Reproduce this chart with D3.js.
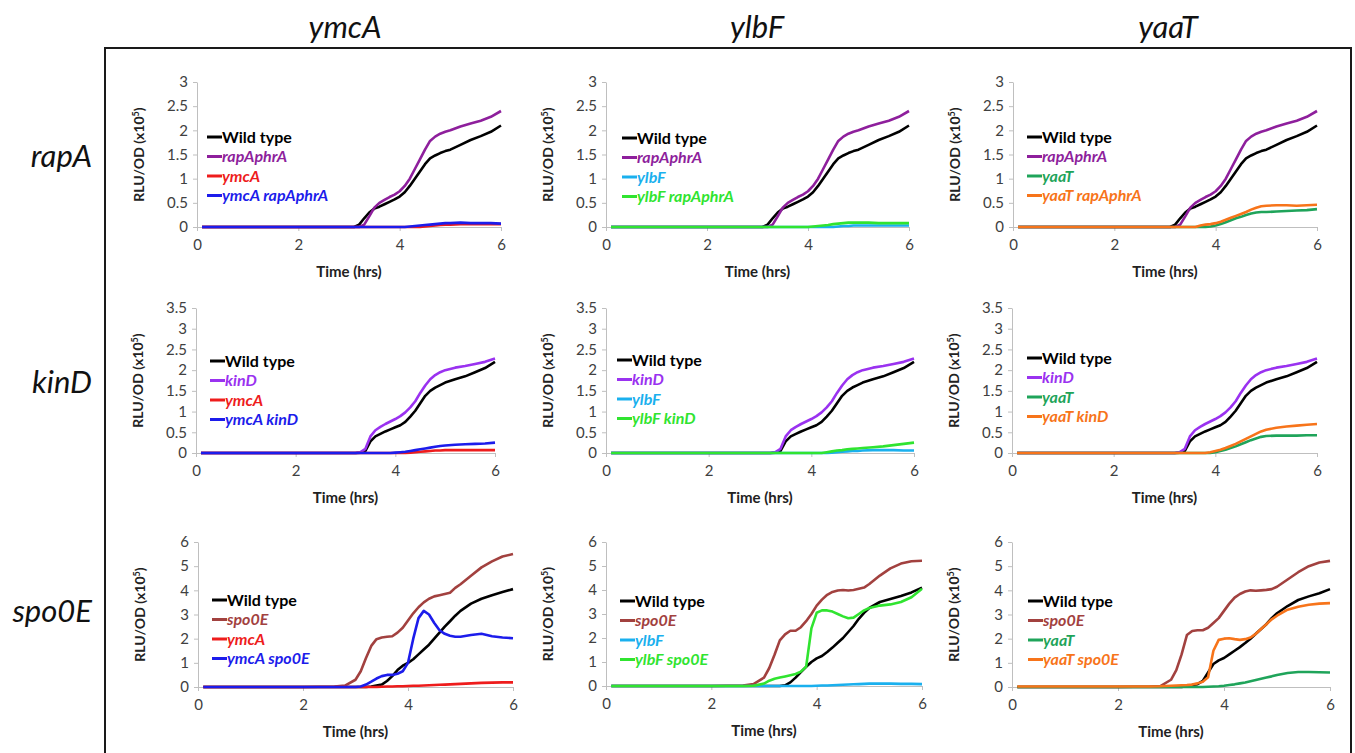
<!DOCTYPE html>
<html>
<head>
<meta charset="utf-8">
<script src="https://cdn.jsdelivr.net/npm/d3@7"></script>
<style>
  body { margin: 0; background: #fff; }
  svg { display: block; font-family: Lato, "Open Sans", sans-serif; }
</style>
</head>
<body>
<script>
// time points (hrs) shared by every series
const time = [0.1, 1, 2, 2.6, 2.8, 3.0, 3.1, 3.2, 3.3, 3.4, 3.5, 3.6, 3.7, 3.8, 3.9, 4.0,
              4.1, 4.2, 4.3, 4.4, 4.5, 4.6, 4.7, 4.8, 4.9, 5.0, 5.2, 5.4, 5.6, 5.8, 6.0];

// row 1 - rapA phrA
const wtRapA      = [0,0,0,0,0,0,0,0.05,0.18,0.3,0.38,0.42,0.47,0.52,0.57,0.63,0.72,0.85,1.0,1.15,1.3,1.42,1.48,1.53,1.57,1.6,1.7,1.8,1.88,1.97,2.1];
const rapAphrA    = [0,0,0,0,0,0,0,0,0.05,0.22,0.4,0.5,0.56,0.62,0.67,0.74,0.85,1.0,1.2,1.4,1.6,1.78,1.87,1.93,1.97,2.0,2.08,2.14,2.2,2.28,2.4];
const ymcA1       = [0,0,0,0,0,0,0,0,0,0,0,0,0,0,0,0,0,0,0,0,0.01,0.02,0.03,0.04,0.05,0.05,0.06,0.06,0.06,0.06,0.06];
const ymcARapA    = [0,0,0,0,0,0,0,0,0,0,0,0,0,0,0,0,0,0.01,0.02,0.03,0.04,0.05,0.06,0.07,0.08,0.08,0.09,0.08,0.08,0.08,0.07];
const ylbF1       = [0,0,0,0,0,0,0,0,0,0,0,0,0,0,0,0,0,0,0,0,0,0.01,0.02,0.02,0.03,0.03,0.03,0.03,0.03,0.03,0.03];
const ylbFRapA    = [0,0,0,0,0,0,0,0,0,0,0,0,0,0,0,0,0.01,0.02,0.03,0.04,0.06,0.07,0.08,0.09,0.09,0.09,0.09,0.08,0.08,0.08,0.08];
const yaaT1       = [0,0,0,0,0,0,0,0,0,0,0,0,0,0,0.01,0.03,0.06,0.1,0.14,0.18,0.21,0.25,0.28,0.3,0.31,0.31,0.32,0.33,0.34,0.35,0.37];
const yaaTRapA    = [0,0,0,0,0,0,0,0,0,0,0,0,0.03,0.05,0.06,0.08,0.11,0.15,0.19,0.23,0.27,0.31,0.36,0.4,0.43,0.44,0.45,0.45,0.44,0.45,0.46];

// row 2 - kinD
const wtKinD      = [0,0,0,0,0,0,0,0,0.01,0.05,0.28,0.4,0.46,0.52,0.57,0.62,0.67,0.75,0.88,1.02,1.2,1.38,1.5,1.58,1.64,1.7,1.78,1.85,1.95,2.05,2.2];
const kinD        = [0,0,0,0,0,0,0,0,0.02,0.1,0.4,0.55,0.63,0.7,0.76,0.82,0.89,0.98,1.1,1.25,1.45,1.63,1.78,1.88,1.95,2.0,2.06,2.1,2.15,2.2,2.28];
const ymcA2       = [0,0,0,0,0,0,0,0,0,0,0,0,0,0,0,0,0,0,0.01,0.02,0.03,0.04,0.05,0.06,0.06,0.07,0.07,0.07,0.07,0.07,0.07];
const ymcAKinD    = [0,0,0,0,0,0,0,0,0,0,0,0,0,0,0,0.01,0.02,0.03,0.05,0.07,0.09,0.11,0.13,0.15,0.17,0.18,0.2,0.21,0.22,0.23,0.25];
const ylbF2       = [0,0,0,0,0,0,0,0,0,0,0,0,0,0,0,0,0,0,0,0.01,0.02,0.03,0.04,0.05,0.05,0.06,0.07,0.07,0.07,0.06,0.06];
const ylbFKinD    = [0,0,0,0,0,0,0,0,0,0,0,0,0,0,0,0,0,0,0.02,0.04,0.06,0.07,0.09,0.1,0.11,0.12,0.14,0.16,0.19,0.22,0.25];
const yaaT2       = [0,0,0,0,0,0,0,0,0,0,0,0,0,0,0,0.02,0.05,0.08,0.12,0.16,0.21,0.26,0.31,0.35,0.39,0.41,0.42,0.42,0.42,0.43,0.43];
const yaaTKinD    = [0,0,0,0,0,0,0,0,0,0,0,0,0,0,0.02,0.05,0.08,0.12,0.17,0.22,0.28,0.34,0.4,0.46,0.52,0.56,0.61,0.64,0.66,0.68,0.7];

// row 3 - spo0E (one experiment per column)
const wtSpoA      = [0,0,0,0,0,0,0,0,0.02,0.06,0.1,0.25,0.45,0.7,0.88,1.0,1.15,1.35,1.55,1.75,2.0,2.25,2.5,2.72,2.95,3.15,3.45,3.65,3.8,3.93,4.05];
const spo0EA      = [0,0,0,0.02,0.06,0.3,0.65,1.2,1.7,1.98,2.05,2.08,2.1,2.25,2.45,2.75,3.05,3.3,3.5,3.65,3.75,3.8,3.85,3.9,4.1,4.25,4.6,4.95,5.2,5.4,5.5];
const ymcA3       = [0,0,0,0,0,0,0,0,0,0,0.01,0.02,0.02,0.03,0.03,0.04,0.05,0.05,0.06,0.07,0.08,0.09,0.1,0.11,0.12,0.13,0.15,0.17,0.18,0.19,0.19];
const ymcASpo     = [0,0,0,0,0,0,0.02,0.1,0.22,0.35,0.45,0.5,0.5,0.55,0.65,1.0,2.0,2.85,3.15,3.0,2.65,2.35,2.2,2.12,2.08,2.08,2.15,2.2,2.1,2.05,2.02];

const wtSpoB      = [0,0,0,0,0,0,0,0,0,0.03,0.15,0.35,0.58,0.8,1.0,1.15,1.25,1.42,1.6,1.8,2.0,2.25,2.5,2.8,3.05,3.25,3.5,3.62,3.75,3.9,4.1];
const spo0EB      = [0,0,0,0.02,0.08,0.35,0.75,1.3,1.9,2.15,2.3,2.3,2.45,2.7,3.0,3.35,3.6,3.8,3.92,3.98,4.0,3.98,4.0,4.05,4.1,4.25,4.6,4.9,5.1,5.2,5.22];
const ylbF3       = [0,0,0,0,0,0,0,0,0,0,0,0,0,0,0,0.01,0.02,0.02,0.03,0.04,0.05,0.06,0.07,0.08,0.09,0.1,0.1,0.1,0.09,0.09,0.08];
const ylbFSpo     = [0,0,0,0,0.01,0.1,0.22,0.3,0.35,0.4,0.45,0.5,0.6,0.8,2.4,3.05,3.15,3.15,3.1,3.0,2.9,2.82,2.85,3.0,3.15,3.25,3.35,3.4,3.5,3.7,4.05];

const wtSpoC      = [0,0,0,0,0,0,0,0,0.03,0.08,0.12,0.25,0.6,0.95,1.1,1.2,1.35,1.5,1.65,1.82,2.0,2.2,2.4,2.6,2.85,3.05,3.35,3.6,3.75,3.88,4.05];
const spo0EC      = [0,0,0,0.02,0.04,0.3,0.7,1.35,2.15,2.32,2.35,2.35,2.45,2.65,2.85,3.15,3.45,3.7,3.85,3.95,4.0,3.98,4.0,4.02,4.05,4.15,4.45,4.75,5.0,5.15,5.22];
const yaaT3       = [0,0,0,0,0,0,0,0,0,0,0,0,0.01,0.02,0.03,0.05,0.08,0.11,0.15,0.19,0.24,0.29,0.34,0.39,0.44,0.5,0.58,0.62,0.62,0.61,0.6];
const yaaTSpo     = [0.02,0.02,0.02,0.02,0.03,0.05,0.06,0.07,0.08,0.1,0.15,0.22,0.4,1.5,1.95,2.0,2.02,1.98,1.95,1.98,2.05,2.2,2.4,2.6,2.8,2.95,3.2,3.32,3.4,3.45,3.47];

// labels and ticks
const colTitles = ["ymcA", "ylbF", "yaaT"];
const rowTitles = ["rapA", "kinD", "spo0E"];
const xTicks = [0, 2, 4, 6];
const yTicksRow = [
  [0, 0.5, 1, 1.5, 2, 2.5, 3],
  [0, 0.5, 1, 1.5, 2, 2.5, 3, 3.5],
  [0, 1, 2, 3, 4, 5, 6]
];
const yMaxRow = [3, 3.5, 6];

const c = {
  wt: "#000000", rap: "#8e1f9c", kin: "#9a32f0", spo: "#a2413f",
  ymcA: "#ee1c1c", ymcA2: "#1c1ceb", ylbF: "#1ab0ee", ylbF2: "#30e430",
  yaaT: "#1fa45a", yaaT2: "#f7741a"
};

const width = 1355, height = 753;

// panel frames (pixel layout of each small chart)
const frames = [
  [{x0:197,x1:501,y0:227,y1:82, lx:207,ly:137}, {x0:606,x1:909,y0:227,y1:82, lx:622,ly:138}, {x0:1013,x1:1317,y0:227,y1:82, lx:1027,ly:137}],
  [{x0:196,x1:495,y0:453,y1:308, lx:210,ly:361}, {x0:606,x1:914,y0:453,y1:308, lx:617,ly:360}, {x0:1012,x1:1317,y0:453,y1:308, lx:1027,ly:358}],
  [{x0:198,x1:513,y0:687,y1:542, lx:212,ly:600}, {x0:606,x1:922,y0:686,y1:542, lx:620,ly:601}, {x0:1012,x1:1330,y0:687,y1:542, lx:1028,ly:601}]
];

const panelSeries = [
  [
    [["Wild type", wtRapA, c.wt], ["rapAphrA", rapAphrA, c.rap], ["ymcA", ymcA1, c.ymcA], ["ymcA rapAphrA", ymcARapA, c.ymcA2]],
    [["Wild type", wtRapA, c.wt], ["rapAphrA", rapAphrA, c.rap], ["ylbF", ylbF1, c.ylbF], ["ylbF rapAphrA", ylbFRapA, c.ylbF2]],
    [["Wild type", wtRapA, c.wt], ["rapAphrA", rapAphrA, c.rap], ["yaaT", yaaT1, c.yaaT], ["yaaT rapAphrA", yaaTRapA, c.yaaT2]]
  ],
  [
    [["Wild type", wtKinD, c.wt], ["kinD", kinD, c.kin], ["ymcA", ymcA2, c.ymcA], ["ymcA kinD", ymcAKinD, c.ymcA2]],
    [["Wild type", wtKinD, c.wt], ["kinD", kinD, c.kin], ["ylbF", ylbF2, c.ylbF], ["ylbF kinD", ylbFKinD, c.ylbF2]],
    [["Wild type", wtKinD, c.wt], ["kinD", kinD, c.kin], ["yaaT", yaaT2, c.yaaT], ["yaaT kinD", yaaTKinD, c.yaaT2]]
  ],
  [
    [["Wild type", wtSpoA, c.wt], ["spo0E", spo0EA, c.spo], ["ymcA", ymcA3, c.ymcA], ["ymcA spo0E", ymcASpo, c.ymcA2]],
    [["Wild type", wtSpoB, c.wt], ["spo0E", spo0EB, c.spo], ["ylbF", ylbF3, c.ylbF], ["ylbF spo0E", ylbFSpo, c.ylbF2]],
    [["Wild type", wtSpoC, c.wt], ["spo0E", spo0EC, c.spo], ["yaaT", yaaT3, c.yaaT], ["yaaT spo0E", yaaTSpo, c.yaaT2]]
  ]
];

const svg = d3.select("body").append("svg")
    .attr("width", width)
    .attr("height", height);

// outer frame
svg.append("rect")
    .attr("x", 105).attr("y", 48)
    .attr("width", 1246).attr("height", 720)
    .attr("fill", "none")
    .attr("stroke", "#1a1a1a")
    .attr("stroke-width", 2);

// column titles
const colCenters = [345, 757, 1168];
colTitles.forEach((t, i) => {
  svg.append("text")
      .attr("x", colCenters[i]).attr("y", 38)
      .attr("text-anchor", "middle")
      .attr("font-size", 31)
      .attr("font-style", "italic")
      .attr("fill", "#111")
      .text(t);
});

// row titles
const rowCenters = [157, 383, 612];
rowTitles.forEach((t, i) => {
  svg.append("text")
      .attr("x", 92).attr("y", rowCenters[i] + 10)
      .attr("text-anchor", "end")
      .attr("font-size", 31)
      .attr("font-style", "italic")
      .attr("fill", "#111")
      .text(t);
});

frames.forEach((row, r) => {
  row.forEach((f, k) => {
    const g = svg.append("g");

    const x = d3.scaleLinear().domain([0, 6]).range([f.x0, f.x1]);
    const y = d3.scaleLinear().domain([0, yMaxRow[r]]).range([f.y0, f.y1]);

    // axes
    const ax = g.append("g")
        .attr("transform", `translate(0,${f.y0})`)
        .call(d3.axisBottom(x).tickValues(xTicks).tickFormat(d3.format("")).tickSize(4).tickSizeOuter(0).tickPadding(8));
    const ay = g.append("g")
        .attr("transform", `translate(${f.x0},0)`)
        .call(d3.axisLeft(y).tickValues(yTicksRow[r]).tickFormat(d3.format("")).tickSize(4).tickSizeOuter(0).tickPadding(5));

    [ax, ay].forEach(a => {
      a.select(".domain").attr("stroke", "#bfbfbf");
      a.selectAll(".tick line").attr("stroke", "#bfbfbf");
      a.selectAll(".tick text")
          .attr("fill", "#404040")
          .attr("font-size", 15)
          .attr("font-family", "Lato, sans-serif");
    });

    // axis titles
    g.append("text")
        .attr("x", (f.x0 + f.x1) / 2).attr("y", f.y0 + 50)
        .attr("text-anchor", "middle")
        .attr("font-size", 15).attr("font-weight", "bold")
        .attr("fill", "#222")
        .text("Time (hrs)");

    const yt = g.append("text")
        .attr("transform", `translate(${f.x0 - 53},${(f.y0 + f.y1) / 2}) rotate(-90)`)
        .attr("text-anchor", "middle")
        .attr("font-size", 14).attr("font-weight", "bold")
        .attr("fill", "#222");
    yt.append("tspan").text("RLU/OD (x10");
    yt.append("tspan").attr("font-size", 9).attr("dy", -5).text("5");
    yt.append("tspan").attr("dy", 5).text(")");

    const line = d3.line()
        .x((d, i) => x(time[i]))
        .y(d => y(d));

    const series = panelSeries[r][k];

    g.selectAll("path.series")
      .data(series)
      .join("path")
        .attr("class", "series")
        .attr("fill", "none")
        .attr("stroke", d => d[2])
        .attr("stroke-width", 2.6)
        .attr("stroke-linejoin", "round")
        .attr("d", d => line(d[1]));

    // legend
    const lg = g.append("g");
    series.forEach((s, i) => {
      const yy = f.ly + i * 19.5;
      lg.append("line")
          .attr("x1", f.lx).attr("x2", f.lx + 15)
          .attr("y1", yy).attr("y2", yy)
          .attr("stroke", s[2]).attr("stroke-width", 3);
      lg.append("text")
          .attr("x", f.lx + 15).attr("y", yy + 5.5)
          .attr("font-size", 16).attr("font-weight", "bold")
          .attr("font-style", i === 0 ? "normal" : "italic")
          .attr("fill", s[2])
          .text(s[0]);
    });
  });
});
</script>
</body>
</html>
